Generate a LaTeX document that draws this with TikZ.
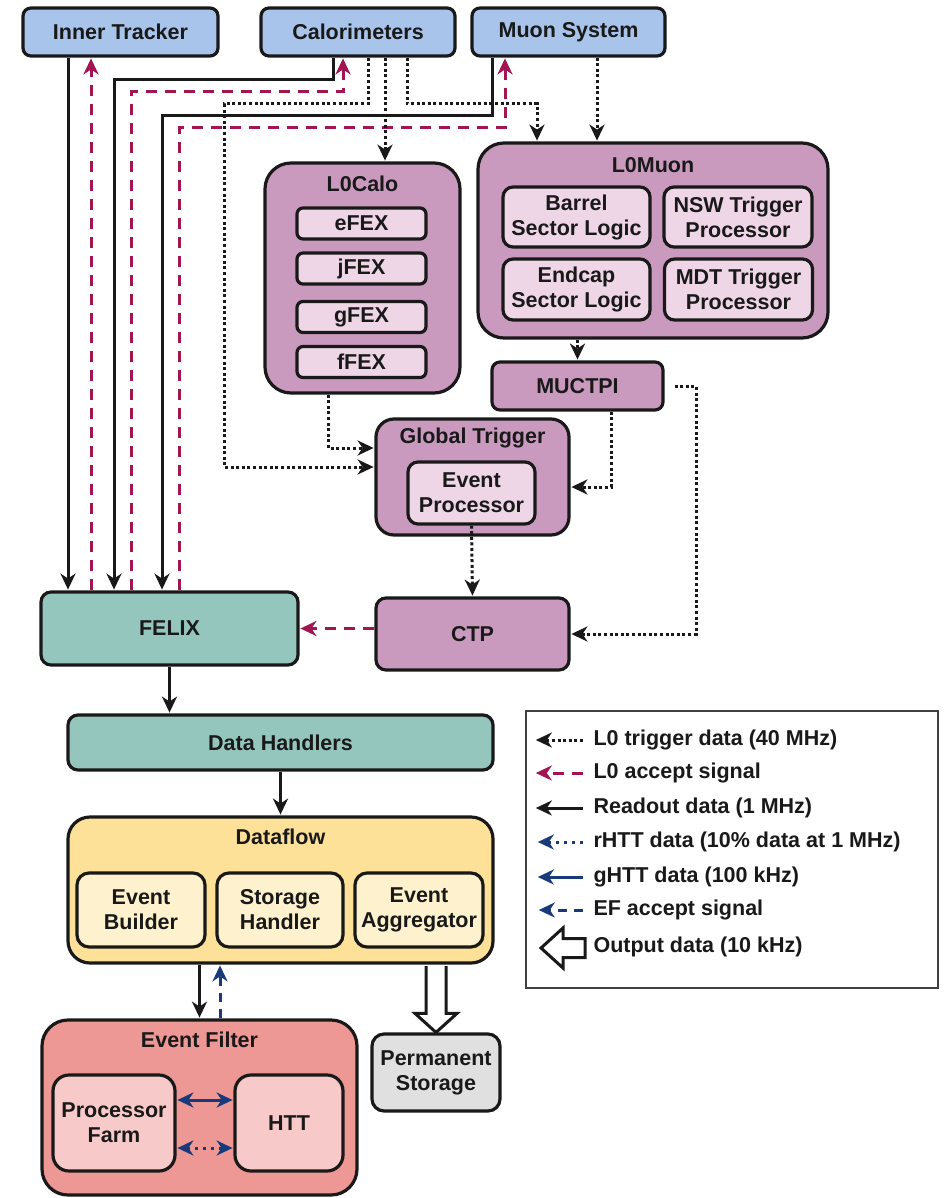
\documentclass[tikz,border=0pt]{standalone}
\usepackage{fontspec}
\setmainfont{Liberation Sans}
\usetikzlibrary{arrows.meta,calc}

\definecolor{detblue}{RGB}{169,196,235}
\definecolor{trigmauve}{RGB}{201,154,190}
\definecolor{trigpale}{RGB}{238,214,231}
\definecolor{tealbox}{RGB}{149,198,190}
\definecolor{dfyellow}{RGB}{253,225,152}
\definecolor{dfpale}{RGB}{254,241,205}
\definecolor{efred}{RGB}{238,152,150}
\definecolor{efpale}{RGB}{247,202,201}
\definecolor{storgrey}{RGB}{224,224,224}
\definecolor{acceptred}{RGB}{162,20,82}
\definecolor{htblue}{RGB}{24,58,122}
\definecolor{ink}{RGB}{25,25,25}

\tikzset{
  lbl/.style={font=\fontsize{21.5}{25}\selectfont\bfseries, text=ink, align=center},
  sz/.style 2 args={minimum width=#1pt, minimum height=#2pt},
  box/.style={lbl, draw=ink, line width=3.2pt, inner sep=0pt, rounded corners=8pt},
  det/.style={box, fill=detblue},
  trigbox/.style={box, fill=trigmauve},
  trigin/.style={box, fill=trigpale},
  tealnode/.style={box, fill=tealbox, rounded corners=10pt},
  dfbox/.style={box, fill=dfyellow},
  dfin/.style={box, fill=dfpale, rounded corners=12pt},
  efbox/.style={box, fill=efred},
  efin/.style={box, fill=efpale, rounded corners=16pt},
  storebox/.style={box, fill=storgrey, rounded corners=12pt},
  headtip/.tip={Stealth[length=16pt,width=15pt,inset=5pt]},
  conn/.style={line width=3pt, -headtip, shorten >=0.8pt},
  twoway/.style={headtip-headtip, shorten <=0.8pt},
  readout/.style={conn, draw=ink},
  accept/.style={conn, draw=acceptred, dash pattern=on 11pt off 8pt},
  trig/.style={conn, draw=ink, dash pattern=on 3pt off 2.6pt},
  ghtt/.style={conn, draw=htblue},
  rhtt/.style={conn, draw=htblue, dash pattern=on 3pt off 5pt},
  efacc/.style={conn, draw=htblue, dash pattern=on 9pt off 7pt},
  hollow/.style={draw=ink, line width=3pt, fill=white, line join=miter},
}

\begin{document}
\begin{tikzpicture}[x=1pt,y=-1pt]
\useasboundingbox (0,0) rectangle (948,1198);

% ---------- detectors ----------
\node[det, sz={195}{48}] (IT)   at (120.5,32) {Inner Tracker};
\node[det, sz={194}{48}] (calo) at (358,32)   {Calorimeters};
\node[det, sz={193}{48}] (muon) at (568.5,32) {Muon System};

% ---------- L0Calo ----------
\node[trigbox, rounded corners=26pt, sz={195}{230}] (L0Calo) at (362.5,278) {};
\node[lbl] (L0CaloT) at ([yshift=-22pt]L0Calo.north) {L0Calo};
\node[trigin, rounded corners=6pt, sz={129}{31}] (eFEX) at (361.5,223.5) {eFEX};
\node[trigin, rounded corners=6pt, sz={129}{31}] (jFEX) at (361.5,268.5) {jFEX};
\node[trigin, rounded corners=6pt, sz={129}{31}] (gFEX) at (361.5,317)   {gFEX};
\node[trigin, rounded corners=6pt, sz={129}{31}] (fFEX) at (361.5,362)   {fFEX};

% ---------- L0Muon ----------
\node[trigbox, rounded corners=26pt, sz={350}{195}] (L0Muon) at (653,240.5) {};
\node[lbl] (L0MuonT) at ([yshift=-24pt]L0Muon.north) {L0Muon};
\node[trigin, rounded corners=10pt, sz={147}{60}] (barrel) at (576.5,217)   {Barrel\\Sector Logic};
\node[trigin, rounded corners=10pt, sz={148}{60}] (nsw)    at (738,217)     {NSW Trigger\\Processor};
\node[trigin, rounded corners=10pt, sz={147}{61}] (endcap) at (576.5,289.5) {Endcap\\Sector Logic};
\node[trigin, rounded corners=10pt, sz={148}{61}] (mdt)    at (738.5,289.5) {MDT Trigger\\Processor};
\node[trigbox, sz={171}{48}] (muctpi) at (577.5,386) {MUCTPI};

% ---------- Global trigger and CTP ----------
\node[trigbox, rounded corners=18pt, sz={193}{116}] (GT) at (472.5,477) {};
\node[lbl] (GTT) at ([yshift=-21pt]GT.north) {Global Trigger};
\node[trigin, rounded corners=10pt, sz={127}{62}] (EP) at (471.5,493) {Event\\Processor};
\node[trigbox, rounded corners=10pt, sz={193}{72}] (CTP) at (472.5,634) {CTP};

% ---------- readout chain ----------
\node[tealnode, sz={257}{73}] (FELIX) at (169.5,628.5) {FELIX};
\node[tealnode, sz={425}{55}] (DH)    at (280.5,742.5) {Data Handlers};

\node[dfbox, rounded corners=22pt, sz={425}{146}] (DF) at (280.5,890) {};
\node[lbl] (DFT) at ([yshift=-21pt]DF.north) {Dataflow};
\node[dfin, sz={128}{74}] (EB) at (141,910) {Event\\Builder};
\node[dfin, sz={126}{74}] (SH) at (280,910) {Storage\\Handler};
\node[dfin, sz={128}{74}] (EA) at (419,910) {Event\\Aggregator};

\node[efbox, rounded corners=26pt, sz={315}{175}] (EF) at (199.5,1107.5) {};
\node[lbl] (EFT) at ([yshift=-21pt]EF.north) {Event Filter};
\node[efin, sz={122}{96}] (PF)  at (114,1123) {Processor\\Farm};
\node[efin, sz={108}{96}] (HTT) at (289,1123) {HTT};

\node[storebox, sz={128}{77}] (PS) at (436,1072.5) {Permanent\\Storage};

% ---------- routing lanes ----------
\coordinate (laneIT)  at (68,0);
\coordinate (laneITa) at (91,0);
\coordinate (laneCa)  at (114,0);
\coordinate (laneCb)  at (131,0);
\coordinate (laneMa)  at (162,0);
\coordinate (laneMb)  at (179,0);
\coordinate (caloR)   at (333,80);
\coordinate (caloA)   at (343,92);
\coordinate (muonR)   at (492,116);
\coordinate (muonA)   at (505,128);
\coordinate (trigL)   at (368,104);
\coordinate (trigLx)  at (224,104);
\coordinate (trigC)   at (385,0);
\coordinate (trigR)   at (407,104);
\coordinate (trigRx)  at (537,104);
\coordinate (trigM)   at (597,0);
\coordinate (calOut)  at (328,0);
\coordinate (mucOut)  at (611,0);
\coordinate (mucSide) at (696,0);
\coordinate (efBack)  at (220,0);

% ---------- readout data ----------
\draw[readout] (IT.south -| laneIT) -- (FELIX.north -| laneIT);
\draw[readout] (calo.south -| caloR) -- (caloR) -| (FELIX.north -| laneCa);
\draw[readout] (muon.south -| muonR) -- (muonR) -| (FELIX.north -| laneMa);
\draw[readout] (FELIX.south) -- (DH.north -| FELIX.south);
\draw[readout] (DH.south) -- (DF.north);
\draw[readout] (DF.south -| EF.north) -- (EF.north);

% ---------- L0 accept ----------
\draw[accept] (FELIX.north -| laneITa) -- (IT.south -| laneITa);
\draw[accept] (FELIX.north -| laneCb) |- (caloA) -- (calo.south -| caloA);
\draw[accept] (FELIX.north -| laneMb) |- (muonA) -- (muon.south -| muonA);
\draw[accept] (CTP.west |- FELIX.east) -- (FELIX.east);

% ---------- L0 trigger data ----------
\draw[trig] (calo.south -| trigL) -- (trigL) -- (trigLx) |- ([yshift=10pt]GT.west);
\draw[trig] (calo.south -| trigC) -- (L0Calo.north -| trigC);
\draw[trig] (calo.south -| trigR) -- (trigR) -- (trigRx) -- (L0Muon.north -| trigRx);
\draw[trig] (muon.south -| trigM) -- (L0Muon.north -| trigM);
\draw[trig] (L0Calo.south -| calOut) |- ([yshift=29pt]GT.west);
\draw[trig] (L0Muon.south -| muctpi.north) -- (muctpi.north);
\draw[trig] (muctpi.south -| mucOut) |- ([yshift=-10pt]GT.east);
\draw[trig] ([xshift=10pt]muctpi.east) -- (muctpi.east -| mucSide) -- (CTP.east -| mucSide) -- (CTP.east);
\draw[trig] (EP.south) -- (CTP.north);

% ---------- event filter ----------
\draw[efacc] (EF.north -| efBack) -- (DF.south -| efBack);
\draw[ghtt, twoway] ([yshift=23pt]PF.east) -- ([yshift=23pt]HTT.west);
\draw[rhtt, twoway] ([yshift=-25pt]PF.east) -- ([yshift=-25pt]HTT.west);

% ---------- output data ----------
\coordinate (outTop) at ([yshift=-1.6pt]DF.south -| PS.north);
\coordinate (outTip) at (PS.north);
\draw[hollow] ([xshift=-10pt]outTop) -- ([xshift=-10pt,yshift=19pt]outTip)
  -- ([xshift=-21pt,yshift=19pt]outTip) -- (outTip)
  -- ([xshift=21pt,yshift=19pt]outTip) -- ([xshift=10pt,yshift=19pt]outTip)
  -- ([xshift=10pt]outTop);

% ---------- legend ----------
\node[draw=black!75, line width=1.6pt, minimum width=412pt, minimum height=277pt, inner sep=0pt] (legend) at (732,849.5) {};
\foreach \k/\y in {1/740,2/773,3/808,4/842,5/877,6/910,7/948} {
  \coordinate (key\k a) at (583,\y);
  \coordinate (key\k b) at (535,\y);
}
\draw[trig]    (key1a) -- (key1b);
\draw[accept]  (key2a) -- (key2b);
\draw[readout] (key3a) -- (key3b);
\draw[rhtt]    (key4a) -- ([xshift=2pt]key4b);
\draw[ghtt]    (key5a) -- ([xshift=2pt]key5b);
\draw[efacc]   (key6a) -- ([xshift=3pt]key6b);
\draw[hollow] ([xshift=6pt]key7b) -- ++(22,-20) -- ++(0,10.5) -- ++(22,0) -- ++(0,19) -- ++(-22,0) -- ++(0,10.5) -- cycle;

\node[lbl, anchor=west] (leg1) at (590,740) {L0 trigger data (40 MHz)};
\node[lbl, anchor=west] (leg2) at (590,773) {L0 accept signal};
\node[lbl, anchor=west] (leg3) at (590,808) {Readout data (1 MHz)};
\node[lbl, anchor=west] (leg4) at (590,842) {rHTT data (10\% data at 1 MHz)};
\node[lbl, anchor=west] (leg5) at (590,877) {gHTT data (100 kHz)};
\node[lbl, anchor=west] (leg6) at (590,910) {EF accept signal};
\node[lbl, anchor=west] (leg7) at (590,947) {Output data (10 kHz)};
\end{tikzpicture}
\end{document}
